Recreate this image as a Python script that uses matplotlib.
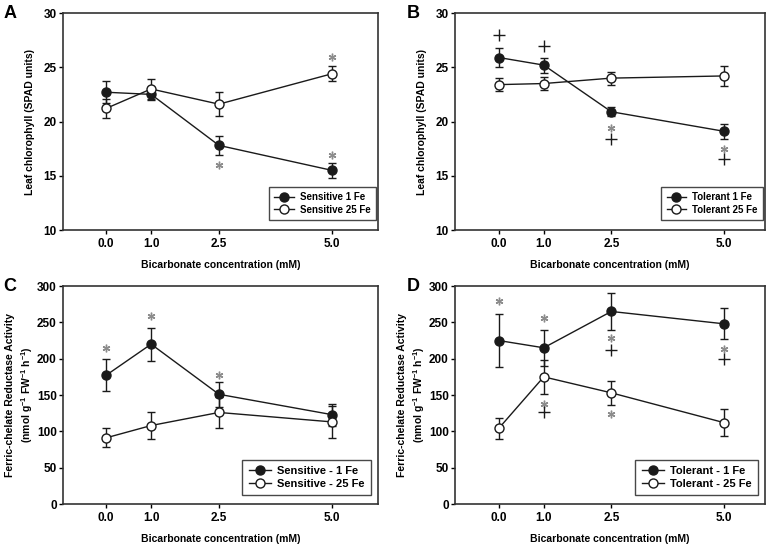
import matplotlib
matplotlib.use('Agg')
import matplotlib.pyplot as plt
from matplotlib.lines import Line2D
import numpy as np

plt.rcParams['font.family'] = ['Liberation Sans', 'DejaVu Sans']
plt.rcParams['font.weight'] = 'bold'
plt.rcParams['mathtext.fontset'] = 'custom'
plt.rcParams['mathtext.rm'] = 'Liberation Sans:bold'
plt.rcParams['mathtext.bf'] = 'Liberation Sans:bold'
plt.rcParams['mathtext.default'] = 'bf'

conc = [0.0, 1.0, 2.5, 5.0]
conc_labels = ['0.0', '1.0', '2.5', '5.0']

# A - leaf chlorophyll, sensitive
a_1fe = [22.7, 22.5, 17.8, 15.5]
a_1fe_err = [1.0, 0.5, 0.87, 0.68]
a_25fe = [21.2, 23.0, 21.6, 24.4]
a_25fe_err = [0.85, 0.9, 1.1, 0.7]
a_stars = [(2.5, 16.0), (5.0, 16.9), (5.0, 25.95)]
a_plus = []

# B - leaf chlorophyll, tolerant
b_1fe = [25.9, 25.2, 20.9, 19.1]
b_1fe_err = [0.85, 0.7, 0.4, 0.7]
b_25fe = [23.4, 23.5, 24.0, 24.2]
b_25fe_err = [0.6, 0.6, 0.6, 0.95]
b_stars = [(2.5, 19.4), (5.0, 17.45)]
b_plus = [(0.0, 28.0), (1.0, 27.0), (2.5, 18.4), (5.0, 16.5)]

# C - FCR, sensitive
c_1fe = [177, 220, 151, 123]
c_1fe_err = [22, 22.5, 17, 15]
c_25fe = [91, 108, 126, 113]
c_25fe_err = [13, 18.5, 21, 22]
c_stars = [(0.0, 215), (1.0, 259), (2.5, 177)]
c_plus = []

# D - FCR, tolerant
d_1fe = [225, 215, 265, 248]
d_1fe_err = [37, 25, 25.5, 21.5]
d_25fe = [104, 175, 153, 112]
d_25fe_err = [14.5, 23.5, 16.5, 18.5]
d_stars = [(0.0, 280), (1.0, 256), (1.0, 138), (2.5, 228), (2.5, 124), (5.0, 214)]
d_plus = [(1.0, 126), (2.5, 212), (5.0, 200)]

fcr_label = 'Ferric-chelate Reductase Activity\n(nmol g$^{-1}$ FW$^{-1}$ h$^{-1}$)'

fig = plt.figure(figsize=(7.73, 5.47), dpi=100)

panels = [
    ('A', 0.013, [0.0815, 0.5795, 0.4075, 0.3967], (-0.95, 6.02), (10, 30), np.arange(10, 31, 5),
     a_1fe, a_1fe_err, a_25fe, a_25fe_err, a_stars, a_plus,
     ['Sensitive 1 Fe', 'Sensitive 25 Fe'], 'Leaf chlorophyll (SPAD units)', 7, 8.5, 6),
    ('B', 0.534, [0.5886, 0.5795, 0.401, 0.3967], (-0.97, 5.91), (10, 30), np.arange(10, 31, 5),
     b_1fe, b_1fe_err, b_25fe, b_25fe_err, b_stars, b_plus,
     ['Tolerant 1 Fe', 'Tolerant 25 Fe'], 'Leaf chlorophyll (SPAD units)', 7, 8.5, 6),
    ('C', 0.013, [0.0815, 0.0786, 0.4075, 0.3985], (-0.95, 6.02), (0, 300), np.arange(0, 301, 50),
     c_1fe, c_1fe_err, c_25fe, c_25fe_err, c_stars, c_plus,
     ['Sensitive - 1 Fe', 'Sensitive - 25 Fe'], fcr_label, 8, 8.5, 1.5),
    ('D', 0.534, [0.5886, 0.0786, 0.401, 0.3985], (-0.97, 5.91), (0, 300), np.arange(0, 301, 50),
     d_1fe, d_1fe_err, d_25fe, d_25fe_err, d_stars, d_plus,
     ['Tolerant - 1 Fe', 'Tolerant - 25 Fe'], fcr_label, 8, 8.5, 1.5),
]

ink = '#1a1a1a'

for (letter, lx, pos, xlim, ylim, yticks, y1, e1, y25, e25, stars, plus,
     labels, ylabel, legfs, tickfs, ypad) in panels:
    ax = fig.add_axes(pos)
    ax.errorbar(conc, y1, yerr=e1, color=ink, marker='o', markersize=6.5,
                markerfacecolor=ink, markeredgecolor=ink, lw=1,
                elinewidth=1, capsize=2.6, capthick=1, zorder=3)
    ax.errorbar(conc, y25, yerr=e25, color=ink, marker='o', markersize=6.5,
                markerfacecolor='white', markeredgecolor=ink, lw=1,
                elinewidth=1, capsize=2.6, capthick=1, zorder=3)
    if stars:
        sx, sy = zip(*stars)
        ax.plot(sx, sy, linestyle='None', marker=(6, 2, 0), markersize=5.5,
                color='#8c8c8c', markeredgewidth=1.0)
    if plus:
        px, py = zip(*plus)
        ax.plot(px, py, linestyle='None', marker='+', markersize=8,
                color=ink, markeredgewidth=1.0)
    ax.set_xlim(*xlim)
    ax.set_ylim(*ylim)
    ax.set_xticks(conc)
    ax.set_xticklabels(conc_labels)
    ax.set_yticks(yticks)
    ax.tick_params(direction='out', length=3, width=1, labelsize=tickfs, pad=3)
    ax.tick_params(axis='y', pad=1.5)
    for s in ax.spines.values():
        s.set_linewidth(1.2)
        s.set_color('#333333')
    ax.set_xlabel('Bicarbonate concentration (mM)', fontsize=7.5, fontweight='bold', labelpad=7)
    ax.set_ylabel(ylabel, fontsize=7.5, fontweight='bold', labelpad=ypad, linespacing=1.35)
    handles = [
        Line2D([], [], color=ink, lw=1, marker='o', markersize=6.5,
               markerfacecolor=ink, markeredgecolor=ink),
        Line2D([], [], color=ink, lw=1, marker='o', markersize=6.5,
               markerfacecolor='white', markeredgecolor=ink),
    ]
    if legfs < 8:
        anchor = (0.993, 0.046)
    else:
        anchor = (0.978, 0.042)
    leg = ax.legend(handles, labels, loc='lower right', bbox_to_anchor=anchor,
                    borderaxespad=0, fontsize=legfs, frameon=True,
                    fancybox=False, edgecolor=ink, handlelength=2.0,
                    borderpad=0.55, labelspacing=0.25, handletextpad=0.6)
    leg.get_frame().set_linewidth(1.0)
    fig.text(lx, pos[1] + pos[3] + 0.0, letter, fontsize=13,
             fontweight='bold', ha='center', va='center')

fig.savefig('out.png', dpi=100)
